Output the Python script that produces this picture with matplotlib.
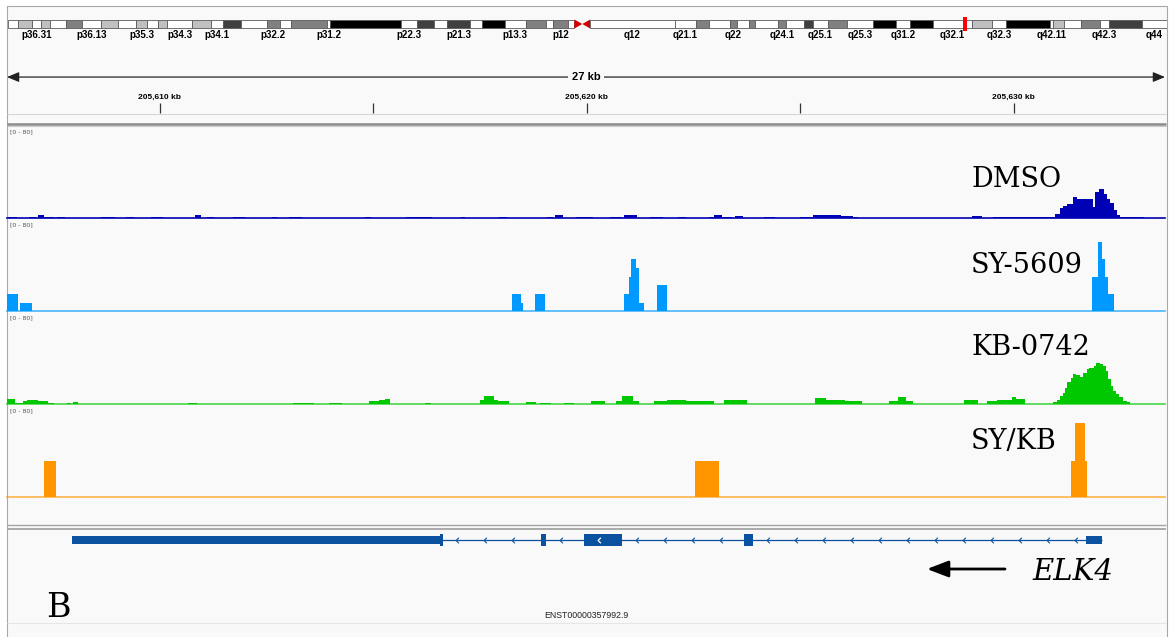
import numpy as np
import matplotlib.pyplot as plt
from matplotlib.patches import Rectangle, Polygon
from matplotlib.path import Path

W, H = 1171, 637

# ---- chr1 cytobands (Mb) ----
band_name = ['p36.33', 'p36.32', 'p36.31', 'p36.23', 'p36.22', 'p36.21', 'p36.13', 'p36.12', 'p36.11',
             'p35.3', 'p35.2', 'p35.1', 'p34.3', 'p34.2', 'p34.1', 'p33', 'p32.3', 'p32.2', 'p32.1',
             'p31.3', 'p31.2', 'p31.1', 'p22.3', 'p22.2', 'p22.1', 'p21.3', 'p21.2', 'p21.1',
             'p13.3', 'p13.2', 'p13.1', 'p12', 'p11.2', 'p11.1', 'q11', 'q12', 'q21.1', 'q21.2',
             'q21.3', 'q22', 'q23.1', 'q23.2', 'q23.3', 'q24.1', 'q24.2', 'q24.3', 'q25.1', 'q25.2',
             'q25.3', 'q31.1', 'q31.2', 'q31.3', 'q32.1', 'q32.2', 'q32.3', 'q41', 'q42.11',
             'q42.12', 'q42.13', 'q42.2', 'q42.3', 'q43', 'q44']
band_start = [0.0, 2.3, 5.3, 7.1, 9.1, 12.5, 15.9, 20.1, 23.6, 27.6, 29.9, 32.3, 34.3, 39.6, 43.7,
              46.3, 50.2, 55.6, 58.5, 60.8, 68.5, 69.3, 84.4, 87.9, 91.5, 94.3, 99.3, 101.8, 106.7,
              111.2, 115.5, 117.2, 120.4, 121.7, 123.4, 125.1, 143.2, 147.8, 150.6, 155.1, 156.6,
              159.1, 160.5, 165.5, 167.2, 170.9, 173.0, 176.1, 180.3, 185.8, 190.8, 193.8, 198.7,
              207.1, 211.3, 214.4, 223.9, 224.4, 226.8, 230.5, 234.6, 236.4, 243.5]
band_stain = ['gneg', 'gpos25', 'gneg', 'gpos25', 'gneg', 'gpos50', 'gneg', 'gpos25', 'gneg',
              'gpos25', 'gneg', 'gpos25', 'gneg', 'gpos25', 'gneg', 'gpos75', 'gneg', 'gpos50', 'gneg',
              'gpos50', 'gneg', 'gpos100', 'gneg', 'gpos75', 'gneg', 'gpos75', 'gneg', 'gpos100',
              'gneg', 'gpos50', 'gneg', 'gpos50', 'gneg', 'acen', 'acen', 'gvar', 'gneg', 'gpos50',
              'gneg', 'gpos50', 'gneg', 'gpos50', 'gneg', 'gpos50', 'gneg', 'gpos75', 'gneg', 'gpos50',
              'gneg', 'gpos100', 'gneg', 'gpos100', 'gneg', 'gpos25', 'gneg', 'gpos100', 'gneg',
              'gpos25', 'gneg', 'gpos50', 'gneg', 'gpos75', 'gneg']
chr_len = 248.96
band_labels = ['p36.31', 'p36.13', 'p35.3', 'p34.3', 'p34.1', 'p32.2', 'p31.2', 'p22.3', 'p21.3',
               'p13.3', 'p12', 'q12', 'q21.1', 'q22', 'q24.1', 'q25.1', 'q25.3', 'q31.2', 'q32.1',
               'q32.3', 'q42.11', 'q42.3', 'q44']

# ---- locus (kb); track positions are given in kb past 205,600 kb ----
ORIGIN_KB = 205600
view_start, view_end = 205606.42, 205633.54

# coverage segments: (start, end, value), scale 0-80
dmso = [(6.44, 6.65, 1.3), (6.93, 7.10, 1.3), (7.14, 7.28, 2.2), (7.28, 7.52, 1.3), (7.59, 7.78, 0.9),
        (8.62, 8.95, 0.6), (9.20, 9.39, 0.6), (9.79, 10.07, 0.6), (10.82, 10.96, 2.2),
        (11.10, 11.27, 1.3), (11.71, 11.99, 0.6), (12.62, 12.74, 0.6), (13.02, 13.33, 0.9),
        (14.80, 14.94, 0.6), (15.76, 15.97, 1.3), (15.97, 16.37, 0.9), (17.05, 17.14, 0.6),
        (17.94, 18.13, 0.6), (19.06, 19.20, 1.3), (19.25, 19.44, 2.2), (19.74, 20.14, 0.6),
        (20.54, 20.82, 0.9), (20.87, 21.17, 2.2), (21.48, 21.78, 0.6), (22.13, 22.32, 0.6),
        (22.86, 22.97, 1.3), (22.97, 23.16, 2.2), (23.16, 23.40, 0.9), (23.47, 23.65, 1.7),
        (24.15, 24.40, 0.6), (24.99, 25.29, 0.9), (25.29, 25.78, 2.6), (25.78, 25.95, 3.0),
        (25.95, 26.23, 1.7), (26.23, 26.35, 0.9), (29.02, 29.25, 1.7), (29.51, 29.77, 1.3),
        (29.77, 30.84, 0.6), (30.84, 30.96, 0.9), (30.96, 31.08, 3.8), (31.08, 31.15, 8.7),
        (31.15, 31.24, 10.2), (31.24, 31.38, 11.9), (31.38, 31.48, 18.0), (31.48, 31.85, 16.8),
        (31.85, 31.90, 9.6), (31.90, 31.99, 22.6), (31.99, 32.11, 25.6), (32.11, 32.18, 21.2),
        (32.18, 32.25, 16.5), (32.25, 32.34, 12.8), (32.34, 32.41, 6.7), (32.41, 32.48, 2.3),
        (32.48, 33.04, 0.6)]
sy5609 = [(6.30, 6.67, 14.6), (6.72, 7.00, 7.3), (18.24, 18.45, 14.6), (18.45, 18.50, 7.3),
          (18.78, 19.02, 14.6), (20.87, 20.99, 14.6), (20.99, 21.03, 29.3), (21.03, 21.15, 45.0),
          (21.15, 21.22, 37.7), (21.22, 21.34, 7.3), (21.65, 21.88, 22.6), (31.84, 31.98, 29.6),
          (31.98, 32.06, 60.0), (32.06, 32.14, 45.0), (32.14, 32.21, 29.6), (32.21, 32.35, 14.8)]
kb0742 = [(6.30, 6.60, 4.6), (6.60, 6.79, 1.3), (6.79, 6.89, 2.6), (6.89, 7.14, 3.5), (7.14, 7.38, 2.2),
          (7.38, 7.52, 1.3), (7.82, 7.92, 0.9), (7.96, 8.08, 1.7), (10.66, 10.87, 0.9),
          (13.11, 13.61, 0.9), (13.96, 14.26, 0.9), (14.89, 15.13, 2.6), (15.13, 15.27, 3.5),
          (15.27, 15.39, 4.4), (16.21, 16.35, 0.9), (17.49, 17.59, 3.5), (17.59, 17.82, 7.0),
          (17.82, 17.92, 3.5), (17.92, 18.17, 2.2), (18.57, 18.81, 1.7), (18.90, 19.16, 1.3),
          (19.46, 19.70, 0.9), (20.09, 20.42, 2.9), (20.68, 20.82, 2.6), (20.82, 21.08, 7.0),
          (21.08, 21.22, 2.6), (21.57, 21.87, 2.6), (21.87, 22.32, 3.5), (22.32, 22.51, 2.6),
          (22.51, 22.97, 3.0), (23.21, 23.75, 3.5), (25.34, 25.60, 5.2), (25.60, 26.04, 3.5),
          (26.04, 26.44, 2.2), (27.07, 27.28, 2.6), (27.28, 27.47, 5.7), (27.47, 27.64, 2.6),
          (28.83, 29.16, 3.5), (29.37, 29.60, 2.6), (29.60, 29.95, 3.9), (29.95, 30.05, 6.1),
          (30.05, 30.26, 4.4), (30.91, 31.01, 1.5), (31.01, 31.08, 3.5), (31.08, 31.15, 6.7),
          (31.15, 31.19, 9.6), (31.19, 31.24, 13.9), (31.24, 31.33, 18.9), (31.33, 31.38, 22.6),
          (31.38, 31.45, 26.1), (31.45, 31.55, 25.5), (31.55, 31.62, 23.8), (31.62, 31.71, 26.7),
          (31.71, 31.76, 30.5), (31.76, 31.87, 31.3), (31.87, 31.92, 33.3), (31.92, 32.01, 35.7),
          (32.01, 32.08, 34.8), (32.08, 32.15, 33.3), (32.15, 32.20, 29.0), (32.20, 32.27, 21.8),
          (32.27, 32.32, 15.9), (32.32, 32.39, 11.6), (32.39, 32.46, 8.7), (32.46, 32.55, 5.8),
          (32.55, 32.65, 2.9), (32.65, 32.72, 1.5)]
sykb = [(7.28, 7.56, 31.6), (22.54, 23.09, 31.6), (31.33, 31.43, 31.6), (31.43, 31.66, 64.0),
        (31.66, 31.71, 31.6)]

track_names = ['DMSO', 'SY-5609', 'KB-0742', 'SY/KB']
track_data = [dmso, sy5609, kb0742, sykb]
track_colors = ['#0000b4', '#0099ff', '#00c800', '#ff9600']
data_range = (0, 80)

# ELK4 transcript ENST00000357992.9 (minus strand)
exon_start = [7.94, 18.93, 19.94, 23.67, 31.70]
exon_end = [16.63, 19.05, 20.83, 23.90, 32.06]
cds_start, cds_end = 16.56, 23.90
transcript_id = 'ENST00000357992.9'
gene_name = 'ELK4'

stain_color = {'gneg': 'white', 'gvar': 'white', 'gpos25': '#c0c0c0', 'gpos50': '#808080',
               'gpos75': '#404040', 'gpos100': 'black'}
gene_color = '#0a52a0'
bg = '#f9f9f9'

fig = plt.figure(figsize=(W / 100, H / 100), dpi=100)


def px_axes(x0, y0, x1, y1, **kw):
    ax = fig.add_axes([x0 / W, 1 - y1 / H, (x1 - x0) / W, (y1 - y0) / H], **kw)
    ax.set_axis_off()
    return ax


def to_steps(segs):
    edges, vals = [segs[0][0]], []
    for s, e, v in segs:
        if abs(edges[-1] - s) > 1e-9:
            vals.append(0.0)
            edges.append(s)
        vals.append(v)
        edges.append(e)
    return np.array(edges) + ORIGIN_KB, np.array(vals)


# panel frame and separators
ov = px_axes(0, 0, W, H)
ov.set_xlim(0, W)
ov.set_ylim(H, 0)
ov.add_patch(Rectangle((6.5, 5.5), 1160, H, facecolor=bg, edgecolor='#a8a8a8', lw=0.8))
ov.hlines(113.5, 7, 1166, color='#d6d6d6', lw=0.8)
ov.hlines(123.5, 7, 1166, color='#8a8a8a', lw=1.8)
ov.hlines(126.3, 7, 1166, color='#c8c8c8', lw=0.8)
ov.hlines(525, 7, 1166, color='#a4a4a4', lw=1.0)
ov.hlines(529, 7, 1166, color='#a4a4a4', lw=1.3)
ov.hlines(622.5, 7, 1166, color='#e6e6e6', lw=0.8)

# ideogram
ax_id = px_axes(7.7, 16, 1167, 32)
ax_id.set_xlim(0, chr_len)
ax_id.set_ylim(0, 1)
band_end = band_start[1:] + [chr_len]
y0, y1 = 0.219, 0.781
for name, s, e, st in zip(band_name, band_start, band_end, band_stain):
    if st == 'acen':
        if name.startswith('p'):
            tri = [(s, y0), (s, y1), (e, 0.5)]
        else:
            tri = [(e, y0), (e, y1), (s, 0.5)]
        ax_id.add_patch(Polygon(tri, closed=True, facecolor='#d00000', edgecolor='none'))
    else:
        ax_id.add_patch(Rectangle((s, y0), e - s, y1 - y0, facecolor=stain_color[st],
                                  edgecolor='#5a5a5a', lw=0.6))
    if name in band_labels:
        ax_id.text((s + e) / 2, -0.2, name, ha='center', va='center', fontsize=7,
                   fontweight='bold', family='Liberation Sans', clip_on=False)
locus_mb = (view_start + view_end) / 2 / 1000
ax_id.add_patch(Rectangle((locus_mb - 0.38, 0.06), 0.76, 0.88, facecolor='#ff0000', edgecolor='none'))

# ruler
ax_r = px_axes(7, 60, 1165, 115)
ax_r.set_xlim(view_start, view_end)
ax_r.set_ylim(0, 1)
ax_r.annotate('', xy=(view_start, 0.69), xytext=(view_end, 0.69),
              arrowprops=dict(arrowstyle='<|-|>,head_length=0.6,head_width=0.25', color='#222222',
                              lw=0.9, mutation_scale=12, shrinkA=0, shrinkB=0))
ax_r.text((view_start + view_end) / 2, 0.69, '%d kb' % round(view_end - view_start), ha='center',
          va='center', fontsize=8, fontweight='bold', family='Liberation Sans',
          bbox=dict(facecolor=bg, edgecolor='none', pad=2.5))
ticks = np.arange(np.ceil(view_start / 5) * 5, view_end, 5)
ax_r.vlines(ticks, 0.036, 0.218, color='#333333', lw=0.9)
for t in ticks:
    if t % 10 == 0:
        ax_r.text(t, 0.33, '{:,.0f} kb'.format(t), ha='center', va='center', fontsize=6,
                  fontweight='bold', family='Liberation Sans')

# coverage tracks
track_top = [126, 219, 312, 405]
label_y = [0.34, 0.41, 0.535, 0.52]
for i, (name, segs, col) in enumerate(zip(track_names, track_data, track_colors)):
    ax = px_axes(7, track_top[i], 1165, track_top[i] + 92)
    ax.set_xlim(view_start, view_end)
    ax.set_ylim(*data_range)
    edges, vals = to_steps(segs)
    ax.stairs(vals, edges, fill=True, color=col, baseline=0, lw=0)
    ax.axhline(0, color=col, lw=1.2, alpha=0.7 if i else 1.0, clip_on=False)
    ax.text(0.003, 0.965, '[%d - %d]' % data_range, transform=ax.transAxes, fontsize=4.5,
            color='#555555', va='top', ha='left')
    ax.text(0.8325, label_y[i], name, transform=ax.transAxes, fontsize=19.5,
            family='DejaVu Serif', va='baseline', ha='left')

# gene track
ax_g = px_axes(7, 530, 1165, 622)
ax_g.set_xlim(view_start, view_end)
ax_g.set_ylim(-82, 10)
g0, g1 = exon_start[0] + ORIGIN_KB, exon_end[-1] + ORIGIN_KB
ax_g.hlines(0, g0, g1, color=gene_color, lw=0.9)
cs, ce = cds_start + ORIGIN_KB, cds_end + ORIGIN_KB
for s, e in zip(exon_start, exon_end):
    s, e = s + ORIGIN_KB, e + ORIGIN_KB
    ax_g.add_patch(Rectangle((s, -3.7), e - s, 7.4, facecolor=gene_color, edgecolor='none'))
    a, b = max(s, cs), min(e, ce)
    if b > a:
        ax_g.add_patch(Rectangle((a, -6.3), b - a, 12.6, facecolor=gene_color, edgecolor='none'))

chevron = Path([(0.5, 1), (-0.5, 0), (0.5, -1)], [Path.MOVETO, Path.LINETO, Path.LINETO])
for a, b in zip(exon_end[:-1], exon_start[1:]):
    xs = np.arange(a + 0.34, b - 0.1, 0.655) + ORIGIN_KB
    ax_g.plot(xs, np.zeros_like(xs), ls='none', marker=chevron, ms=4, mfc='none',
              mec=gene_color, mew=0.8)
for s, e in zip(exon_start, exon_end):
    if s >= cds_start and e <= cds_end and e - s > 0.5:
        xs = np.arange(s + 0.34, e - 0.1, 0.655) + ORIGIN_KB
        ax_g.plot(xs, np.zeros_like(xs), ls='none', marker=chevron, ms=4, mfc='none',
                  mec='white', mew=0.9)
ax_g.text((g0 + g1) / 2, -75, transcript_id, ha='center', va='center', fontsize=6.3,
          family='Liberation Sans', color='#222222')

# annotations
ov.annotate('', xy=(927, 569), xytext=(1005, 569),
            arrowprops=dict(arrowstyle='-|>,head_length=0.65,head_width=0.25', color='black',
                            lw=2, mutation_scale=20, shrinkA=0, shrinkB=0))
ov.text(1032, 580, gene_name, fontsize=21, family='DejaVu Serif', style='italic', va='baseline')
ov.text(46, 617, 'B', fontsize=24, family='DejaVu Serif', va='baseline')

fig.savefig('out.png', dpi=100, facecolor='white')
